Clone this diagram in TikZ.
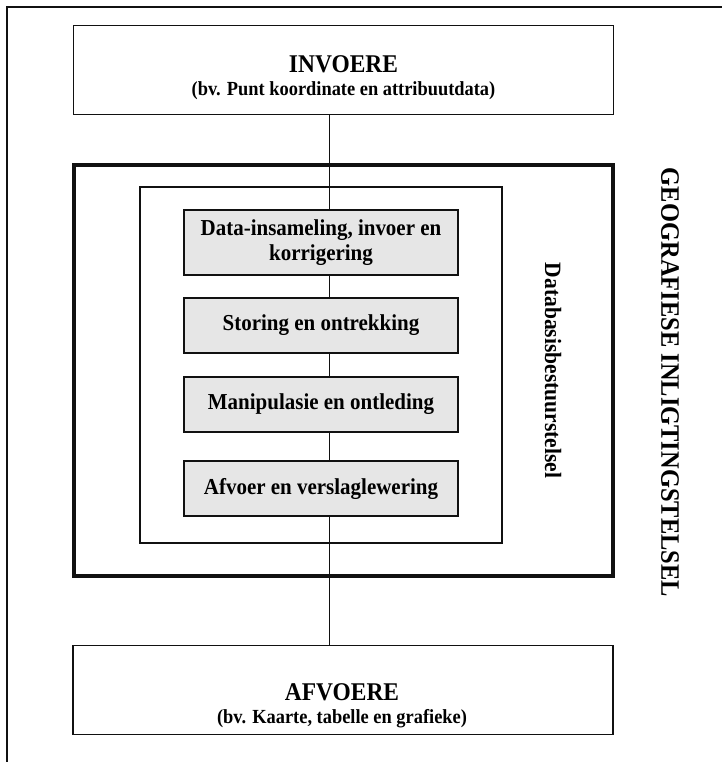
\documentclass[tikz,border=0pt]{standalone}
\usepackage{fontspec}
\setmainfont{Liberation Serif}
\newfontfamily\gisfont{Liberation Serif}[FakeStretch=0.92]
\usepackage{tikz}
\usetikzlibrary{positioning, calc}
\definecolor{gisline}{HTML}{111111}
\definecolor{gisgray}{HTML}{E6E6E6}

\tikzset{
  iobox/.style={draw=gisline, line width=1.2pt, minimum width=540, minimum height=89, inner sep=0pt},
  stapbox/.style={draw=gisline, fill=gisgray, line width=1.2pt, minimum width=274, inner sep=0pt, align=center,
    font=\gisfont\fontsize{22.8}{25}\selectfont\bfseries},
  kop/.style={anchor=base, font=\gisfont\fontsize{25.5}{26}\selectfont\bfseries},
  subkop/.style={anchor=base, font=\gisfont\fontsize{20}{21}\selectfont\bfseries},
  spinelink/.style={draw=gisline, line width=1pt}
}

\begin{document}
\begin{tikzpicture}[x=1pt, y=-1pt]
  \useasboundingbox (0,0) rectangle (722,762);

  % Page frame (only top and left edges visible)
  \draw[gisline, line width=2pt] (7,762) -- (7,7) -- (722,7);

  % Input and output boxes
  \node[iobox] (invoere) at (343.5,70) {};
  \node[kop] (invoeretitel) at (343.5,73) {INVOERE};
  \node[subkop] (invoeresub) at (343.5,96) {(bv. Punt koordinate en attribuutdata)};

  \node[iobox] (afvoere) at (343,690) {};
  \node[kop] (afvoeretitel) at (342,700) {AFVOERE};
  \node[subkop] (afvoeresub) at (342,723) {(bv. Kaarte, tabelle en grafieke)};

  % GIS frame and database management frame
  \node[draw=gisline, line width=3.5pt, minimum width=539, minimum height=411] (gis) at (343.5,370.5) {};
  \node[draw=gisline, line width=2pt, minimum width=362, minimum height=356] (dbms) at (321,365) {};

  \node[rotate=-90, font=\gisfont\fontsize{26.6}{27}\selectfont\bfseries] (gistitel) at (670,382.5) {GEOGRAFIESE INLIGTINGSTELSEL};
  \node[rotate=-90, font=\gisfont\fontsize{23.4}{24}\selectfont\bfseries] (dbmstitel) at (553,370.5) {Databasisbestuurstelsel};

  % Processing steps
  \foreach \i/\y/\h/\txt in {1/242.5/65/{Data-insameling, invoer en\\korrigering},
                             2/325.5/55/{Storing en ontrekking},
                             3/404.5/55/{Manipulasie en ontleding},
                             4/488.5/55/{Afvoer en verslaglewering}} {
    \node[stapbox, minimum height=\h] (stap\i) at (321,\y) {\txt};
  }

  % Spine connecting everything
  \coordinate (spine) at (329,0);
  \draw[spinelink] (invoere.south -| spine) -- (stap1.north -| spine);
  \foreach \a/\b in {1/2, 2/3, 3/4} {
    \draw[spinelink] (stap\a.south -| spine) -- (stap\b.north -| spine);
  }
  \draw[spinelink] (stap4.south -| spine) -- (afvoere.north -| spine);
\end{tikzpicture}
\end{document}
